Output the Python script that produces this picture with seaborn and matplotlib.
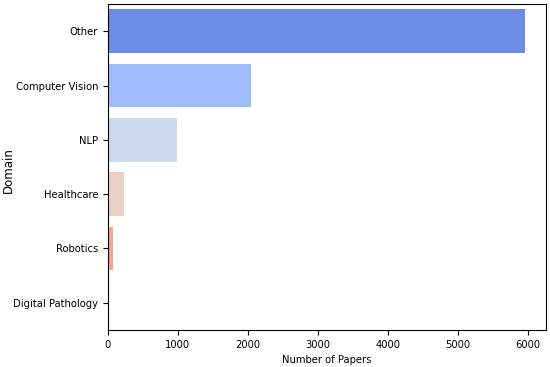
import matplotlib
matplotlib.use('Agg')
import pandas as pd
import matplotlib.pyplot as plt
import seaborn as sns

domains = ['Other', 'Computer Vision', 'NLP', 'Healthcare', 'Robotics', 'Digital Pathology']
papers = [5960, 2045, 985, 230, 75, 4]

df = pd.DataFrame({'Domain': domains, 'Number of Papers': papers})

plt.rcParams['font.family'] = ['DejaVu Sans']
plt.rcParams['font.stretch'] = 'condensed'
plt.rcParams['font.size'] = 8

fig, ax = plt.subplots(figsize=(5.5, 3.67), dpi=100)
sns.barplot(data=df, x='Number of Papers', y='Domain', hue='Domain',
            palette='coolwarm', saturation=0.9, legend=False, ax=ax)
ax.set_xlabel('Number of Papers', fontsize=8)
ax.set_ylabel('Domain', fontsize=8.5, stretch='normal')
ax.yaxis.set_label_coords(-0.213, 0.49)
ax.tick_params(labelsize=8)
fig.subplots_adjust(left=0.196, right=0.993, top=0.989, bottom=0.101)
fig.savefig('out.png', dpi=100)
